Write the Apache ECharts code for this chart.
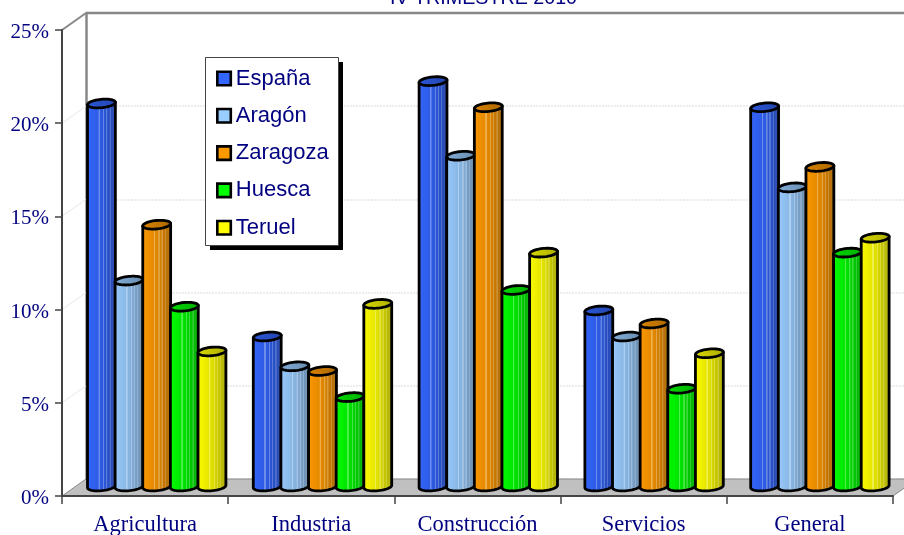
<!DOCTYPE html>
<html><head><meta charset="utf-8">
<style>html,body{margin:0;padding:0;background:#fff;overflow:hidden}#c{width:904px;height:535px}</style>
<script src="https://cdn.jsdelivr.net/npm/echarts@6/dist/echarts.min.js"></script>
</head><body><div id="c"></div>
<script>
const categories = ['Agricultura','Industria','Construcción','Servicios','General'];
const espana   = [20.6, 8.1, 21.8, 9.5, 20.4];
const aragon   = [11.1, 6.5, 17.8, 8.1, 16.1];
const zaragoza = [14.1, 6.25, 20.4, 8.8, 17.2];
const huesca   = [9.7, 4.85, 10.6, 5.3, 12.6];
const teruel   = [7.3, 9.85, 12.6, 7.2, 13.4];
const seriesNames = ['España','Aragón','Zaragoza','Huesca','Teruel'];
const seriesValues = [espana, aragon, zaragoza, huesca, teruel];
const colors = ['#3366FF','#99CCFF','#FF9900','#00FF00','#FFFF00'];
const yTicks = [0,5,10,15,20,25];
const NAVY = '#000080';

function hexRgb(h){return [1,3,5].map(i=>parseInt(h.substr(i,2),16));}
function shade(h,f,w){const c=hexRgb(h);return 'rgb('+c.map(v=>Math.round(v*f+(w||0)*(255-v*f))).join(',')+')';}
const bandStops=[[0,1,.1],[.14,.96,0],[.4,.9,0],[.41,.92,.3],[.445,.9,.3],[.455,.89,0],[.55,.86,0],[.56,.86,.28],[.59,.85,.28],[.6,.84,0],[.65,.81,0],[.66,.81,.24],[.69,.8,.24],[.7,.79,0],[.76,.76,0],[.77,.76,.2],[.8,.74,.2],[.81,.73,0],[.88,.7,.06],[1,.6,.08]];
function bodyFill(h){return new echarts.graphic.LinearGradient(0,0,1,0,bandStops.map(s=>({offset:s[0],color:shade(h,s[1],s[2])})));}
function topFill(h){return new echarts.graphic.LinearGradient(0,0,1,0,[{offset:0,color:shade(h,.85)},{offset:1,color:shade(h,.68)}]);}

const TILT=-5.5*Math.PI/180, RX=14, RY=4.2;
function ePt(cx,cy,t){const x=RX*Math.cos(t),y=RY*Math.sin(t);
  return [cx+x*Math.cos(TILT)-y*Math.sin(TILT), cy+x*Math.sin(TILT)+y*Math.cos(TILT)];}
function makeRender(si){
  return function(params,api){
    const cat=api.value(0), val=api.value(1);
    const band=api.size([1,0])[0];
    const p=api.coord([cat,val]), b=api.coord([cat,0]);
    const cx=p[0]+(si-2)*band/6;
    const body=[], top=[];
    body.push(ePt(cx,p[1],Math.PI));
    for(let i=0;i<=24;i++) body.push(ePt(cx,b[1]-1,Math.PI-i*Math.PI/24));
    body.push(ePt(cx,p[1],0));
    for(let i=0;i<48;i++) top.push(ePt(cx,p[1],i*2*Math.PI/48));
    const st={stroke:'#000',lineWidth:2.8,lineJoin:'round'};
    return {type:'group',children:[
      {type:'polygon',shape:{points:body},style:Object.assign({fill:bodyFill(colors[si])},st)},
      {type:'polygon',shape:{points:top},style:Object.assign({fill:topFill(colors[si])},st)}
    ]};
  };
}

const chart=echarts.init(document.getElementById('c'),null,{renderer:'canvas'});
const W=831,H=466;
const wallLines=yTicks.slice(1,5).map(t=>{const y=496-t*H/25;return {type:'line',z:1,silent:true,
  shape:{x1:62,y1:y,x2:86,y2:y-17},style:{stroke:'#e8e8e8',lineWidth:1}};});
chart.setOption({
  animation:false,
  backgroundColor:'#fff',
  title:{text:'IV TRIMESTRE 2010',left:478.5,textAlign:'center',top:-16,
    textStyle:{fontFamily:'Liberation Sans',fontSize:19.7,fontWeight:'normal',color:NAVY}},
  legend:{show:true,orient:'vertical',left:205,top:57,data:seriesNames,icon:'rect',
    itemWidth:13.5,itemHeight:13.5,itemGap:15.3,padding:[10.5,8,7,11],
    itemStyle:{borderColor:'#000',borderWidth:2.6},selectedMode:false,
    textStyle:{fontFamily:'Liberation Sans',fontSize:22,color:NAVY,lineHeight:22,height:22,padding:0}},
  grid:[
    {left:62,top:30,width:W,height:H,outerBoundsMode:'none'},
    {left:86,top:13,width:W,height:H,outerBoundsMode:'none'},
    {left:73.8,top:21.5,width:829,height:H,outerBoundsMode:'none'},
    {left:62,top:32.5,width:W,height:H,outerBoundsMode:'none'}
  ],
  xAxis:[
    {gridIndex:0,type:'category',data:categories,z:3,
      axisLine:{lineStyle:{color:'#444',width:2}},
      axisTick:{show:true,length:8,alignWithLabel:false,lineStyle:{color:'#444',width:1.5}},
      axisLabel:{fontFamily:'Liberation Serif',fontSize:22.5,color:NAVY,margin:17.5},splitLine:{show:false}},
    {gridIndex:1,type:'category',data:categories,show:false},
    {gridIndex:2,type:'category',data:categories,show:false},
    {gridIndex:3,type:'category',data:categories,show:false}
  ],
  yAxis:[
    {gridIndex:0,type:'value',min:0,max:25,interval:5,z:3,
      axisLine:{show:true,lineStyle:{color:'#444',width:2}},
      axisTick:{show:true,length:7,lineStyle:{color:'#444',width:1.5}},
      axisLabel:{show:false},splitLine:{show:false}},
    {gridIndex:1,type:'value',min:0,max:25,interval:5,
      axisLine:{show:true,lineStyle:{color:'#888',width:2.5}},axisTick:{show:false},axisLabel:{show:false},
      splitLine:{show:true,lineStyle:{color:'#e8e8e8',width:1.5,type:[2,1]}}},
    {gridIndex:2,type:'value',min:0,max:25,interval:5,show:false},
    {gridIndex:3,type:'value',min:0,max:25,interval:5,z:3,
      axisLine:{show:false},axisTick:{show:false},splitLine:{show:false},
      axisLabel:{formatter:'{value}%',fontFamily:'Liberation Serif',fontSize:21,color:NAVY,margin:13}}
  ],
  graphic:[
    {type:'polygon',z:1,silent:true,shape:{points:[[62,496],[86,479],[917,479],[893,496]]},style:{fill:'#C0C0C0',stroke:'#888',lineWidth:1}},
    {type:'line',z:1,silent:true,shape:{x1:86,y1:13,x2:904,y2:13},style:{stroke:'#888',lineWidth:2.5}},
    {type:'line',z:1,silent:true,shape:{x1:62,y1:30,x2:86,y2:13},style:{stroke:'#888',lineWidth:2}},
    ...wallLines,
    {type:'rect',z:3,silent:true,shape:{x:210,y:62,width:133,height:188},style:{fill:'#000'}},
    {type:'rect',z:3.1,silent:true,shape:{x:205.5,y:57.5,width:133,height:188},style:{fill:'#fff',stroke:'#444',lineWidth:1}}
  ],
  series:seriesNames.map((name,si)=>({
    name,type:'custom',xAxisIndex:2,yAxisIndex:2,z:2+si*0.01,clip:false,silent:true,
    itemStyle:{color:colors[si]},
    encode:{x:0,y:1},
    data:seriesValues[si].map((v,i)=>[i,v]),
    renderItem:makeRender(si)
  }))
});
</script></body></html>
